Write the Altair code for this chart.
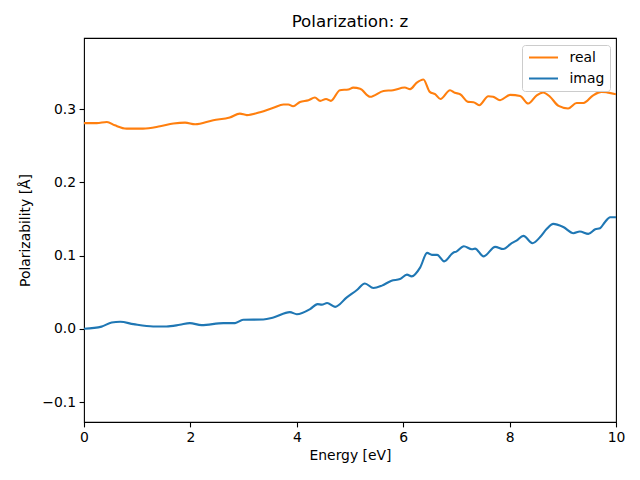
import altair as alt
import pandas as pd

real_energy = [0.0, 0.24, 0.43, 0.58, 0.80, 1.11, 1.43, 1.68, 1.90, 2.09, 2.43, 2.74, 2.93, 3.06,
               3.31, 3.56, 3.75, 3.84, 3.93, 4.06, 4.22, 4.34, 4.44, 4.55, 4.64, 4.81, 4.97, 5.06,
               5.19, 5.38, 5.63, 5.81, 6.03, 6.13, 6.25, 6.38, 6.50, 6.60, 6.70, 6.88, 6.97, 7.07,
               7.22, 7.32, 7.43, 7.60, 7.69, 7.82, 8.01, 8.20, 8.35, 8.51, 8.63, 8.76, 8.92, 9.10,
               9.26, 9.39, 9.57, 9.73, 9.83, 10.0]
real_value = [0.281, 0.281, 0.2826, 0.278, 0.2735, 0.2735, 0.2767, 0.2804, 0.2817, 0.2795, 0.285,
              0.2886, 0.294, 0.292, 0.296, 0.302, 0.3064, 0.3064, 0.304, 0.310, 0.3123, 0.316,
              0.3114, 0.314, 0.3114, 0.326, 0.327, 0.3295, 0.328, 0.317, 0.325, 0.326, 0.3297,
              0.3274, 0.336, 0.3407, 0.3237, 0.3205, 0.314, 0.326, 0.3224, 0.3205, 0.310, 0.3096,
              0.3055, 0.3178, 0.317, 0.3123, 0.3196, 0.318, 0.3078, 0.319, 0.3228, 0.317, 0.3045,
              0.301, 0.3086, 0.3086, 0.319, 0.3237, 0.323, 0.3205]

imag_energy = [0.0, 0.33, 0.52, 0.68, 0.93, 1.30, 1.55, 1.80, 1.99, 2.21, 2.62, 2.84, 2.99, 3.37,
               3.56, 3.87, 4.00, 4.25, 4.39, 4.47, 4.57, 4.72, 4.94, 5.13, 5.28, 5.44, 5.60, 5.78,
               5.94, 6.07, 6.16, 6.32, 6.45, 6.54, 6.64, 6.77, 6.94, 7.00, 7.14, 7.29, 7.35, 7.51,
               7.73, 7.88, 8.04, 8.13, 8.26, 8.43, 8.57, 8.70, 8.82, 9.01, 9.20, 9.32, 9.48, 9.61,
               9.70, 9.79, 9.89, 10.0]
imag_value = [0.0, 0.003, 0.0087, 0.0096, 0.0064, 0.0032, 0.0032, 0.0055, 0.0078, 0.005, 0.0078,
              0.0078, 0.0123, 0.0128, 0.0155, 0.0228, 0.020, 0.027, 0.0338, 0.033, 0.0352, 0.030,
              0.043, 0.053, 0.062, 0.0557, 0.059, 0.0657, 0.068, 0.074, 0.0717, 0.084, 0.1037,
              0.101, 0.101, 0.0922, 0.104, 0.1055, 0.1128, 0.1087, 0.1096, 0.099, 0.112, 0.109,
              0.117, 0.1205, 0.127, 0.117, 0.125, 0.1366, 0.1434, 0.139, 0.1306, 0.133, 0.1297,
              0.136, 0.1374, 0.1456, 0.1525, 0.1525]

series_names = ["real", "imag"]
series_colors = ["#ff7f0e", "#1f77b4"]
x_ticks = [0, 2, 4, 6, 8, 10]
y_ticks = [-0.1, 0.0, 0.1, 0.2, 0.3]

df = pd.concat([
    pd.DataFrame({"Energy": real_energy, "Value": real_value, "Series": "real"}),
    pd.DataFrame({"Energy": imag_energy, "Value": imag_value, "Series": "imag"}),
], ignore_index=True)

FONT = "DejaVu Sans"

chart = alt.Chart(df).mark_line(strokeWidth=2.1, interpolate="monotone", clip=True).encode(
    x=alt.X("Energy:Q", scale=alt.Scale(domain=[0, 10], nice=False, zero=False),
            axis=alt.Axis(values=x_ticks, title="Energy [eV]", format="d")),
    y=alt.Y("Value:Q", scale=alt.Scale(domain=[-0.1273, 0.3973], nice=False, zero=False),
            axis=alt.Axis(values=y_ticks, title="Polarizability [Å]", format=".1f")),
    color=alt.Color("Series:N", scale=alt.Scale(domain=series_names, range=series_colors),
                    legend=alt.Legend(title=None, orient="top-right", offset=6.5,
                                      symbolType="stroke", symbolSize=841, symbolStrokeWidth=2.1,
                                      labelFontSize=13.9, labelFont=FONT, labelColor="black",
                                      labelOffset=10, rowPadding=7, padding=5.5, clipHeight=14,
                                      strokeColor="#cccccc", fillColor="rgba(255,255,255,0.8)",
                                      cornerRadius=3)),
    detail="Series:N",
).properties(
    width=532, height=384,
    title=alt.Title("Polarization: z", font=FONT, fontSize=16.7, fontWeight="normal",
                    color="black", offset=7),
    autosize=alt.AutoSizeParams(type="none"),
    padding={"left": 76, "top": 30, "right": 16, "bottom": 50},
).configure_view(
    stroke="black", strokeWidth=1.1
).configure_axis(
    grid=False, domain=False, tickColor="black", tickSize=4.9, tickWidth=1.1,
    labelFont=FONT, labelFontSize=13.9, labelColor="black", labelPadding=3.5,
    titleFont=FONT, titleFontSize=13.9, titleFontWeight="normal", titleColor="black",
).configure_axisX(
    titlePadding=4, labelFlush=False
).configure_axisY(
    titlePadding=9, labelFlush=False
)

chart.save("out.html", embed_options={"renderer": "svg", "actions": False})
